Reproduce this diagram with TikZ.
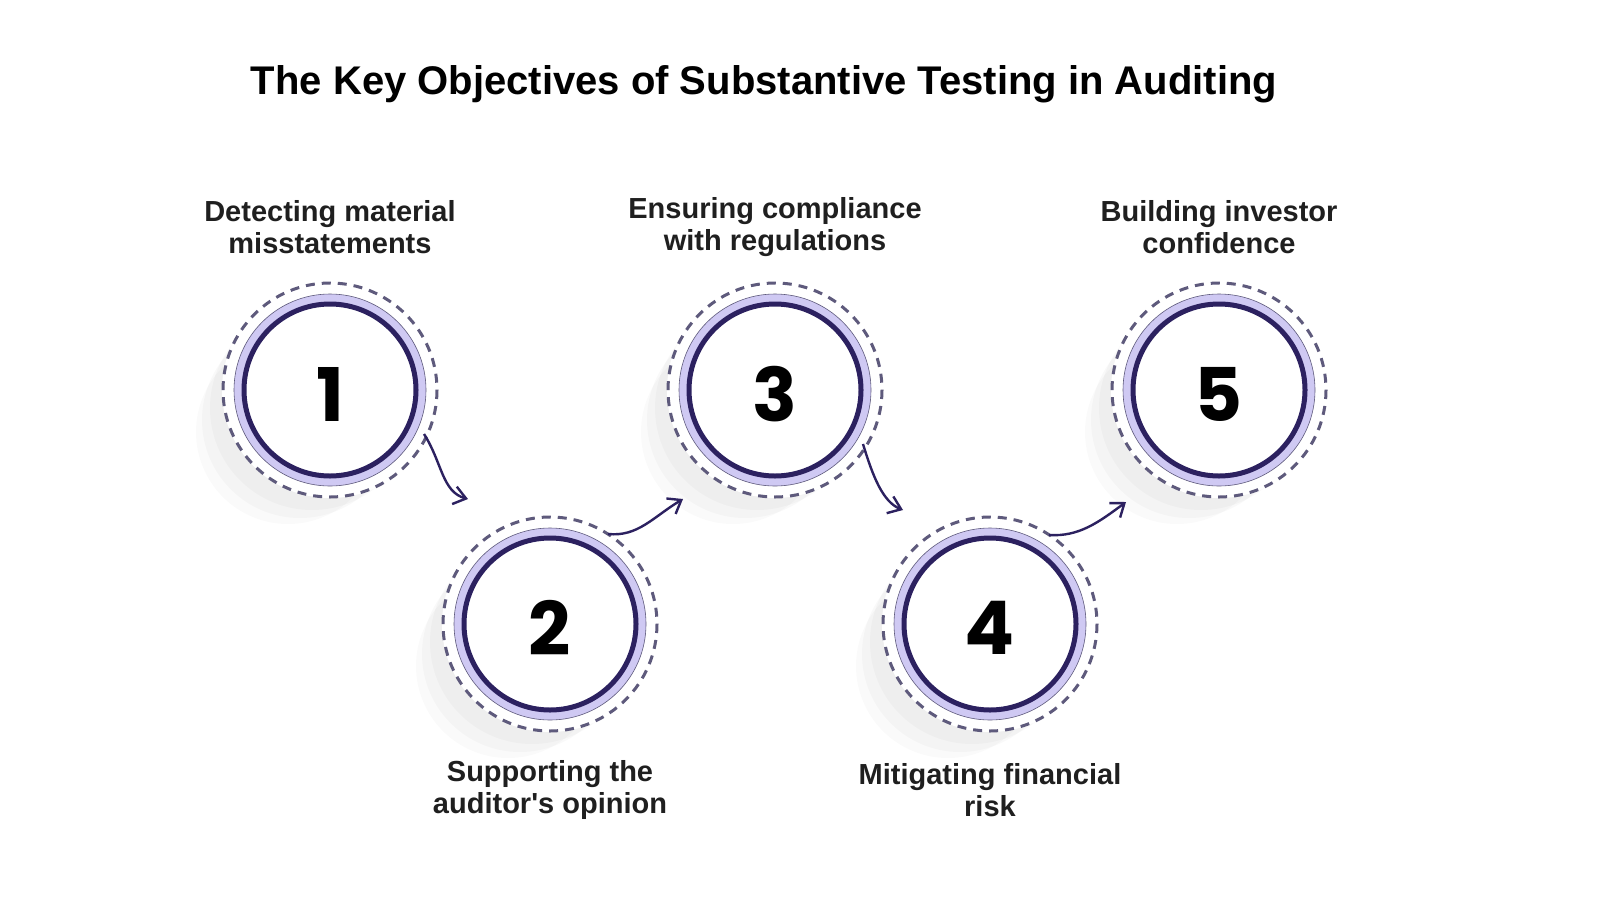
\documentclass[tikz,border=0pt]{standalone}
\usepackage{fontspec}
\setmainfont{Liberation Sans}
\newfontfamily\plainfont{Liberation Sans}
\newfontfamily\numfont{Poppins}
\usetikzlibrary{arrows.meta}
\definecolor{ringlight}{HTML}{CFC9F3}
\definecolor{ringdark}{HTML}{2C2160}
\definecolor{dashc}{HTML}{5E5A7C}
\tikzset{
  x=1pt,y=-1pt,
  lbl/.style={align=center,font=\plainfont\fontsize{29}{32}\selectfont\bfseries,text=black!88},
  num/.style={font=\numfont\fontsize{74}{74}\selectfont\bfseries},
  conn/.style={draw=ringdark,line width=2.4pt,-{Straight Barb[length=12pt,width=18pt,line width=2.4pt]}}
}
\newcommand{\stepcirc}[3]{%
  \fill[black,opacity=0.025] (#1-18,#2+18) circle (102);
  \fill[black,opacity=0.025] (#1-30,#2+30) circle (98);
  \fill[black,opacity=0.02] (#1-42,#2+42) circle (92);
  \fill[white] (#1,#2) circle (108);
  \draw[dashc,line width=3pt,dash pattern=on 9pt off 7pt] (#1,#2) circle (107);
  \fill[ringlight] (#1,#2) circle (96);
  \draw[dashc,line width=0.6pt] (#1,#2) circle (96);
  \draw[ringdark,line width=5pt,fill=white] (#1,#2) circle (86);
  \node[num] (n#3) at (#1,#2+4) {#3};
}
\begin{document}
\begin{tikzpicture}
\useasboundingbox (0,0) rectangle (1600,900);
\fill[white] (0,0) rectangle (1600,900);
\node[font=\fontsize{40}{44}\selectfont\bfseries] (title) at (764,84) {The Key Objectives of Substantive Testing in Auditing};
\stepcirc{330}{390}{1}
\stepcirc{550}{624}{2}
\stepcirc{775}{390}{3}
\stepcirc{990}{624}{4}
\stepcirc{1219}{390}{5}
\node[lbl] (l1) at (330,227) {Detecting material\\misstatements};
\node[lbl] (l3) at (775,227) {Ensuring compliance\\with regulations};
\node[lbl] (l5) at (1219,227) {Building investor\\confidence};
\node[lbl] (l2) at (550,790) {Supporting the\\auditor's opinion};
\node[lbl] (l4) at (990,790) {Mitigating financial\\risk};
\coordinate (a1) at (424,434); \coordinate (b1) at (468,499);
\coordinate (a2) at (608,534); \coordinate (b2) at (683,499);
\coordinate (a3) at (863,444); \coordinate (b3) at (903,510);
\coordinate (a4) at (1049,535); \coordinate (b4) at (1126,502);
\draw[conn] (a1) .. controls (442,462) and (442,492) .. (b1);
\draw[conn] (a2) .. controls (638,537) and (653,517) .. (b2);
\draw[conn] (a3) .. controls (873,477) and (883,502) .. (b3);
\draw[conn] (a4) .. controls (1079,537) and (1099,522) .. (b4);
\end{tikzpicture}
\end{document}
